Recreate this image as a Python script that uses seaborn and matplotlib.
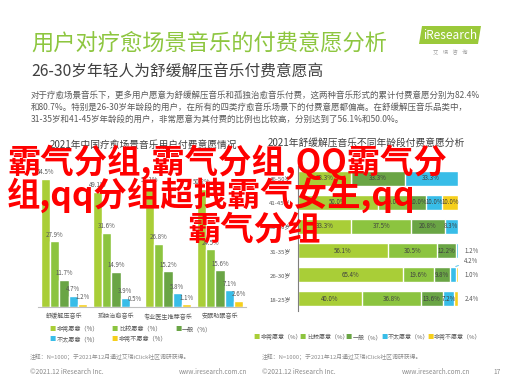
import matplotlib
matplotlib.use("Agg")
import matplotlib.pyplot as plt
import seaborn as sns
import pandas as pd
from matplotlib.patches import Polygon

# ---------------- data ----------------
levels = ["非常愿意", "比较愿意", "一般", "不太愿意", "非常不愿意"]

scenes = ["舒缓解压音乐", "孤独治愈音乐", "专业医生推荐音乐", "安眠助眠音乐"]
s_very = [54.5, 49.1, 51.1, 50.2]
s_rather = [27.9, 31.6, 26.8, 24.5]
s_neutral = [11.7, 14.9, 15.2, 15.6]
s_not = [4.7, 3.9, 5.8, 7.1]
s_notatall = [1.2, 0.5, 1.1, 2.6]

ages = ["46-50岁", "41-45岁", "36-40岁", "31-35岁", "26-30岁", "18-25岁"]
a_very = [33.3, 50.0, 33.3, 56.1, 65.4, 40.0]
a_rather = [0.0, 20.0, 37.5, 30.5, 19.6, 36.8]
a_neutral = [33.3, 10.0, 20.8, 12.2, 9.8, 13.6]
a_not = [33.3, 10.0, 8.3, 1.2, 4.2, 7.2]
a_notatall = [0.0, 10.0, 0.0, 0.0, 1.0, 2.4]

title = "用户对疗愈场景音乐的付费意愿分析"
subtitle = "26-30岁年轻人为舒缓解压音乐付费意愿高"
desc = [
    "对于疗愈场景音乐下，更多用户愿意为舒缓解压音乐和孤独治愈音乐付费，这两种音乐形式的累计付费意愿分别为82.4%",
    "和80.7%。特别是26-30岁年龄段的用户，在所有的四类疗愈音乐场景下的付费意愿都偏高。在舒缓解压音乐品类中，",
    "31-35岁和41-45岁年龄段的用户，非常愿意为其付费的比例也比较高，分别达到了56.1%和50.0%。",
]
title_left = "2021年中国疗愈场景音乐用户付费意愿情况"
title_right = "2021年舒缓解压音乐不同年龄段付费意愿分析"
note = "注释：N=1000；于2021年12月通过艾瑞iClick社区调研获得。"
copyright_txt = "©2021.12 iResearch Inc."
site = "www.iresearch.com.cn"
page_no = "17"
overlay = ["霸气分组,霸气分组,QQ霸气分", "组,qq分组超拽霸气女生,qq", "霸气分组"]

# ---------------- style ----------------
colors = ["#A9CE37", "#8CC43F", "#6AA545", "#38BDE8", "#F6CF1C"]
W, H = 507, 380
def fx(x): return x / W
def fy(y): return 1 - y / H

sns.set_theme(style="white")
plt.rcParams["font.family"] = ["Noto Sans CJK SC", "DejaVu Sans"]
GRAY = "#595959"
LGRAY = "#8C8C8C"

fig = plt.figure(figsize=(W / 100, H / 100), dpi=100)
fig.patch.set_facecolor("white")

# header
fig.text(fx(31), fy(43), title, fontsize=16, color="#8DC63F", va="center", ha="left")
fig.text(fx(31), fy(72), subtitle, fontsize=11.3, color="#404040", va="center", ha="left")
for i, line in enumerate(desc):
    fig.text(fx(31), fy(95 + 12 * i), line, fontsize=6.1, color=GRAY, va="center", ha="left")

# logo
logo = Polygon([[fx(419), fy(44)], [fx(478), fy(44)], [fx(481), fy(26)], [fx(422), fy(26)]],
               closed=True, transform=fig.transFigure, facecolor="#9BC93A", edgecolor="none")
fig.patches.append(logo)
fig.text(fx(450), fy(35.5), "iResearch", fontsize=8.5, color="white", ha="center", va="center")
fig.text(fx(450), fy(52), "艾    瑞    咨    询", fontsize=3.8, color="#A0A0A0", ha="center", va="center")

# ---------------- left chart ----------------
df_left = pd.DataFrame({
    "场景": scenes * 5,
    "意愿": sum([[lv] * len(scenes) for lv in levels], []),
    "值": s_very + s_rather + s_neutral + s_not + s_notatall,
})
axL = fig.add_axes([fx(38), fy(307), (246 - 38) / W, (307 - 166) / H])
sns.barplot(data=df_left, x="场景", y="值", hue="意愿", hue_order=levels,
            palette=colors, width=0.9, ax=axL, legend=False, saturation=1)
axL.set_ylim(0, 60)
axL.set_xlim(-0.5, 3.5)
axL.set_xlabel("")
axL.set_ylabel("")
axL.set_yticks([])
for sp in ["left", "right", "top"]:
    axL.spines[sp].set_visible(False)
axL.spines["bottom"].set_color("#BFBFBF")
axL.spines["bottom"].set_linewidth(0.8)
axL.tick_params(axis="x", length=0, pad=4, labelsize=4.4, labelcolor=GRAY)
axL.set_facecolor("none")
for cont in axL.containers:
    axL.bar_label(cont, fmt="%.1f%%", fontsize=4.4, color=GRAY, padding=2)
fig.text(fx(143), fy(145), title_left, fontsize=7.0, color="#404040", ha="center", va="center")

# left legend
leg_left = [(53, 329, 0), (115, 329, 1), (178, 329, 2), (53, 339, 3), (115, 339, 4)]
for x, y, k in leg_left:
    fig.text(fx(x), fy(y), "■", fontsize=4.5, color=colors[k], ha="center", va="center")
    fig.text(fx(x + 4), fy(y), levels[k] + "（%）", fontsize=4.4, color=GRAY, ha="left", va="center")

# ---------------- right chart ----------------
axR = fig.add_axes([fx(298), fy(311), 160 / W, 145 / H])
series = [a_very, a_rather, a_neutral, a_not, a_notatall]
cums = []
run = [0.0] * len(ages)
for s in series:
    run = [r + v for r, v in zip(run, s)]
    cums.append(list(run))
for k in range(4, -1, -1):
    df_r = pd.DataFrame({"年龄": ages, "累计": cums[k]})
    sns.barplot(data=df_r, x="累计", y="年龄", orient="h", color=colors[k],
                width=0.62, ax=axR, saturation=1)
axR.set_xlim(0, 100)
axR.set_xlabel("")
axR.set_ylabel("")
axR.set_xticks([])
for sp in ["right", "top", "bottom"]:
    axR.spines[sp].set_visible(False)
axR.spines["left"].set_color("#7F7F7F")
axR.spines["left"].set_linewidth(0.8)
axR.tick_params(axis="y", length=0, pad=5, labelsize=4.3, labelcolor=GRAY)
axR.set_facecolor("none")

for i in range(len(ages)):
    start = 0.0
    for k in range(5):
        v = series[k][i]
        if v > 0:
            if v >= 5:
                axR.text(start + v / 2, i, f"{v:.1f}%", fontsize=4.4, color="#404040",
                         ha="center", va="center")
            elif v >= 3:
                axR.annotate(f"{v:.1f}%", xy=(start + v / 2, i - 0.31), xytext=(104, i - 0.55),
                             fontsize=4.4, color=GRAY, ha="left", va="center",
                             arrowprops=dict(arrowstyle="-", color="#38BDE8", lw=0.6),
                             annotation_clip=False)
            else:
                axR.text(104, i, f"{v:.1f}%", fontsize=4.4, color=GRAY, ha="left",
                         va="center", clip_on=False)
        start += v
fig.text(fx(366), fy(143), title_right, fontsize=7.0, color="#404040", ha="center", va="center")

# right legend
leg_right = [(257, 0), (303, 1), (349, 2), (384, 3), (430, 4)]
for x, k in leg_right:
    fig.text(fx(x), fy(337), "■", fontsize=4.5, color=colors[k], ha="center", va="center")
    fig.text(fx(x + 4), fy(337), levels[k] + "（%）", fontsize=4.3, color=GRAY, ha="left", va="center")

# notes and footers
fig.text(fx(30), fy(357), note, fontsize=4.2, color=LGRAY, ha="left", va="center")
fig.text(fx(262), fy(357), note, fontsize=4.2, color=LGRAY, ha="left", va="center")
fig.text(fx(30), fy(372), copyright_txt, fontsize=4.8, color=LGRAY, ha="left", va="center")
fig.text(fx(247), fy(372), site, fontsize=4.6, color=LGRAY, ha="right", va="center")
fig.text(fx(262), fy(372), copyright_txt, fontsize=4.8, color=LGRAY, ha="left", va="center")
fig.text(fx(470), fy(372), site, fontsize=4.6, color=LGRAY, ha="right", va="center")
fig.text(fx(497), fy(372), page_no, fontsize=4.8, color=LGRAY, ha="center", va="center")

# red overlay text
fig.text(fx(7), fy(173), overlay[0], fontsize=24, color="#FF0000", fontweight="bold",
         ha="left", va="baseline")
fig.text(fx(7), fy(206), overlay[1], fontsize=24, color="#FF0000", fontweight="bold",
         ha="left", va="baseline")
fig.text(fx(254), fy(240), overlay[2], fontsize=24, color="#FF0000", fontweight="bold",
         ha="center", va="baseline")

fig.savefig("out.png", dpi=100, facecolor="white")
